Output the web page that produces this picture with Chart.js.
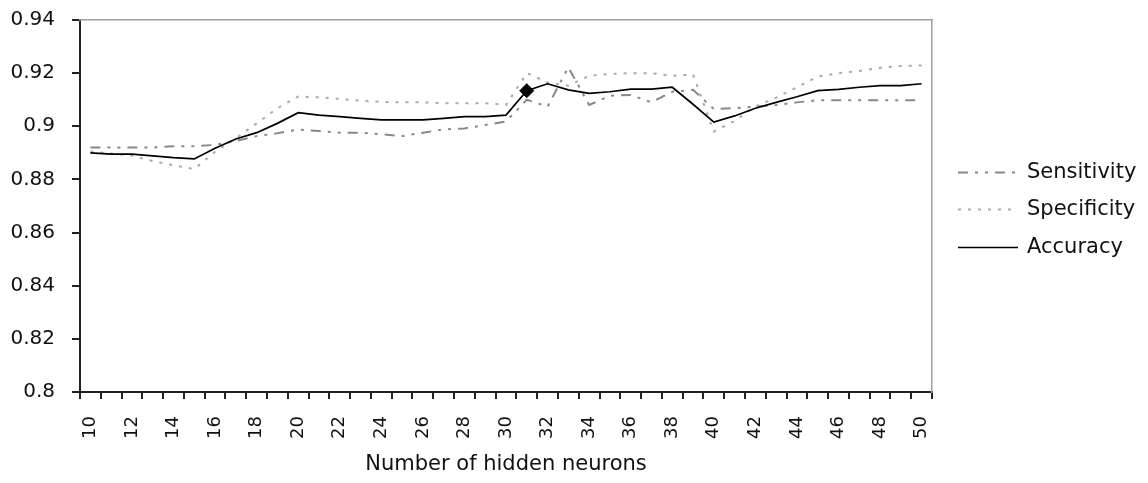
<!DOCTYPE html>
<html><head><meta charset="utf-8">
<script src="https://cdn.jsdelivr.net/npm/chart.js@4"></script>
<style>html,body{margin:0;padding:0;background:#fff;overflow:hidden}</style>
</head><body>
<canvas id="c" width="1148" height="483"></canvas>
<script>
const hiddenNeurons = [10,11,12,13,14,15,16,17,18,19,20,21,22,23,24,25,26,27,28,29,30,31,32,33,34,35,36,37,38,39,40,41,42,43,44,45,46,47,48,49,50];
const sensitivity = [0.892,0.892,0.892,0.892,0.8925,0.8925,0.893,0.8945,0.8963,0.8974,0.8988,
  0.8982,0.8976,0.8976,0.8970,0.8963,0.8976,0.8988,0.8992,0.9005,0.9018,
  0.910,0.9074,0.9222,0.908,0.9115,0.9118,0.909,0.913,0.9137,0.9065,
  0.9068,0.9074,0.908,0.909,0.9098,0.9098,0.9098,0.9098,0.9098,0.9098];
const specificity = [0.8905,0.8898,0.8889,0.8869,0.8853,0.8839,0.8904,0.8955,0.9011,0.9068,0.9112,
  0.9109,0.9103,0.9096,0.9092,0.909,0.909,0.9087,0.9087,0.9087,0.908,
  0.920,0.9165,0.9153,0.919,0.9197,0.920,0.920,0.919,0.9195,0.898,
  0.902,0.9074,0.9108,0.9147,0.9187,0.920,0.9208,0.922,0.9227,0.9229];
const accuracy = [0.890,0.8895,0.8895,0.8889,0.8882,0.8877,0.8917,0.8952,0.8976,0.9011,0.9051,
  0.9042,0.9036,0.9030,0.9024,0.9024,0.9024,0.9030,0.9036,0.9036,0.9042,
  0.9134,0.916,0.9137,0.9124,0.913,0.914,0.914,0.9147,0.9083,0.9016,
  0.9039,0.9068,0.909,0.9111,0.9134,0.9139,0.9147,0.9153,0.9153,0.916];
const yMin = 0.8, yMax = 0.94, yStep = 0.02;
const markedNeurons = 31;
const seriesNames = ['Sensitivity', 'Specificity', 'Accuracy'];
const xTitle = 'Number of hidden neurons';

const FONT = '"DejaVu Sans", sans-serif';
const TXT = '#111';
const AXIS = '#222';

const sideLegend = {
  id: 'sideLegend',
  afterDraw(chart) {
    const {ctx, chartArea} = chart;
    const mid = (chartArea.top + chartArea.bottom) / 2 + 3;
    const x0 = chartArea.right + 26, x1 = chartArea.right + 86, tx = chartArea.right + 95;
    ctx.save();
    chart.data.datasets.forEach((ds, i) => {
      const y = Math.round(mid + (i - 1) * 37.5) + 0.5;
      ctx.beginPath();
      ctx.strokeStyle = ds.borderColor;
      ctx.lineWidth = ds.borderWidth;
      ctx.setLineDash(ds.borderDash || []);
      ctx.moveTo(x0, y); ctx.lineTo(x1, y);
      ctx.stroke();
      ctx.setLineDash([]);
      ctx.fillStyle = TXT;
      ctx.font = '21px ' + FONT;
      ctx.textBaseline = 'middle';
      ctx.textAlign = 'left';
      ctx.fillText(ds.label, tx, y);
    });
    ctx.restore();
  }
};

new Chart(document.getElementById('c'), {
  type: 'line',
  data: {
    labels: hiddenNeurons,
    datasets: [
      { label: seriesNames[0], data: sensitivity, borderColor: '#888888', borderWidth: 2,
        borderDash: [10,7,3,7,3,7], pointRadius: 0, tension: 0, fill: false, order: 2 },
      { label: seriesNames[1], data: specificity, borderColor: '#aaaaaa', borderWidth: 2,
        borderDash: [3,7], pointRadius: 0, tension: 0, fill: false, order: 1 },
      { label: seriesNames[2], data: accuracy, borderColor: '#000', borderWidth: 1.7,
        pointRadius: hiddenNeurons.map(n => n === markedNeurons ? 7 : 0),
        pointStyle: 'rectRot', pointBackgroundColor: '#000', pointBorderColor: '#000',
        pointBorderWidth: 1, tension: 0, fill: false, order: 0 }
    ]
  },
  options: {
    responsive: false,
    animation: false,
    devicePixelRatio: 1,
    events: [],
    layout: { padding: { top: 20, right: 216, bottom: 0, left: 0 } },
    plugins: { legend: { display: false }, tooltip: { enabled: false } },
    scales: {
      x: {
        type: 'category', position: 'bottom', offset: true,
        grid: { display: true, offset: true, drawOnChartArea: false, drawTicks: true, tickLength: 7, color: AXIS, lineWidth: 2 },
        border: { display: true, color: AXIS, width: 2 },
        ticks: {
          autoSkip: false, minRotation: 90, maxRotation: 90, padding: 17,
          color: TXT, font: { family: FONT, size: 18 },
          callback: function (v, i) { return i % 2 === 0 ? String(hiddenNeurons[i]) : ''; }
        },
        title: { display: true, text: xTitle, color: TXT, font: { family: FONT, size: 21 }, padding: { top: 0, bottom: 6 } },
        afterFit(s) { s.height = 91; s.paddingLeft = 0; s.paddingRight = 0; }
      },
      y: {
        type: 'linear', position: 'left', min: yMin, max: yMax,
        grid: { display: true, drawOnChartArea: false, drawTicks: true, tickLength: 8, color: AXIS, lineWidth: 2 },
        border: { display: true, color: AXIS, width: 2 },
        ticks: {
          stepSize: yStep, padding: 17, color: TXT, font: { family: FONT, size: 20 },
          callback: v => String(Math.round(v * 100) / 100)
        },
        afterFit(s) { s.width = 80; s.paddingTop = 0; s.paddingBottom = 0; }
      },
      x2: {
        type: 'category', position: 'top', display: true,
        grid: { display: false, drawTicks: false }, ticks: { display: false },
        border: { display: true, color: '#a0a0a0', width: 1.5 },
        afterFit(s) { s.height = 0; s.paddingLeft = 0; s.paddingRight = 0; }
      },
      y2: {
        type: 'linear', position: 'right', display: true,
        grid: { display: false, drawTicks: false }, ticks: { display: false },
        border: { display: true, color: '#a0a0a0', width: 1.5 },
        afterFit(s) { s.width = 0; s.paddingTop = 0; s.paddingBottom = 0; }
      }
    }
  },
  plugins: [sideLegend]
});
</script>
</body></html>
